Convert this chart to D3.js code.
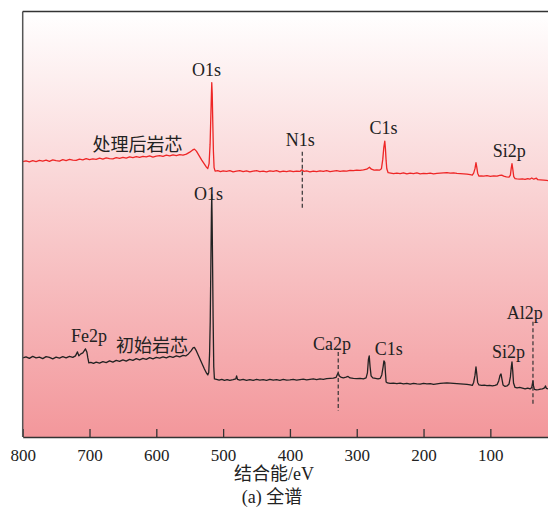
<!DOCTYPE html>
<html>
<head>
<meta charset="utf-8">
<script src="https://cdn.jsdelivr.net/npm/d3@7"></script>
<style>
  html, body { margin: 0; padding: 0; background: #fff; }
  svg text { font-family: "Liberation Serif", "Noto Sans CJK SC", serif; fill: #222; }
</style>
</head>
<body>
<svg width="548" height="510"></svg>
<script>
// binding energy (eV) vs intensity (a.u.)
const treatedSpectrum = [
  [800, 55.0], [795, 55.15], [790, 54.95], [785, 55.2], [780, 55.0], [775, 55.25], [770, 55.1], [765, 55.3],
  [760, 55.05], [755, 55.35], [750, 55.2], [745, 55.1], [740, 55.4], [735, 55.2], [730, 55.45], [725, 55.3],
  [720, 55.25], [715, 55.5], [710, 55.35], [705, 55.6], [700, 55.4], [695, 55.55], [690, 55.45], [685, 55.7],
  [680, 55.5], [675, 55.75], [670, 55.6], [665, 55.55], [660, 55.8], [655, 55.65], [650, 55.85], [645, 55.7],
  [640, 55.95], [635, 55.8], [630, 56.0], [625, 55.85], [620, 56.05], [615, 55.95], [610, 56.15], [605, 55.9],
  [600, 56.1], [595, 56.2], [590, 56.05], [585, 56.3], [580, 56.15], [575, 56.35], [570, 56.2], [565, 56.4],
  [560, 56.3], [555, 56.5], [550, 56.9], [546, 57.3], [543, 57.5], [540, 57.1], [536, 56.2], [532, 55.3],
  [528, 54.5], [525, 53.9], [523, 53.6], [521, 54.6], [519.5, 58.5], [518.5, 63.5], [517.5, 68.5], [517, 70.8],
  [516.3, 68.5], [515.5, 63], [514.5, 57], [513.5, 53.8], [512, 53.1], [508, 53.2], [504, 53.0], [500, 53.15],
  [495, 53.05], [490, 53.2], [485, 52.95], [480, 53.1], [475, 53.2], [470, 53.0], [465, 53.15], [460, 52.95],
  [455, 53.1], [450, 53.2], [445, 53.0], [440, 53.1], [435, 52.95], [430, 53.15], [425, 53.05], [420, 53.2],
  [415, 52.95], [410, 53.1], [405, 53.0], [400, 53.15], [395, 53.0], [390, 53.1], [385, 53.05], [382, 53.4],
  [379, 53.05], [375, 53.15], [370, 52.95], [365, 53.1], [360, 53.0], [355, 53.15], [350, 53.05], [345, 53.2],
  [340, 53.0], [335, 53.1], [330, 53.2], [325, 53.05], [320, 53.15], [315, 53.1], [310, 53.25], [305, 53.2],
  [300, 53.3], [295, 53.25], [290, 53.35], [285, 53.5], [281, 53.9], [278, 53.5], [274, 53.3], [270, 53.35],
  [266, 53.3], [263, 53.6], [261, 55.5], [259.5, 57.8], [258, 59.1], [257, 57.5], [256, 55.2], [255, 53.6],
  [253, 52.8], [249, 52.7], [245, 52.6], [240, 52.7], [235, 52.6], [230, 52.75], [225, 52.55], [220, 52.7],
  [215, 52.6], [210, 52.75], [205, 52.55], [200, 52.65], [195, 52.6], [190, 52.7], [185, 52.55], [180, 52.65],
  [175, 52.7], [170, 52.75], [165, 52.8], [160, 52.7], [155, 52.75], [150, 52.65], [145, 52.6], [140, 52.55],
  [135, 52.5], [130, 52.4], [127, 52.3], [125, 52.7], [123, 53.6], [121.5, 54.8], [120.2, 53.8], [119, 52.7],
  [117, 52.1], [114, 52.15], [110, 52.1], [105, 52.2], [100, 52.05], [95, 52.15], [90, 52.1], [86, 52.25],
  [83, 52.3], [80, 52.1], [76, 51.95], [72, 51.9], [70, 52.3], [68.8, 53.6], [67.6, 54.6], [66.3, 53.4],
  [65, 52.0], [63, 51.6], [60, 51.55], [56, 51.5], [52, 51.55], [48, 51.45], [44, 51.6], [41, 51.5],
  [38, 51.75], [35, 51.5], [33, 51.6], [31, 51.7], [29, 51.4], [25, 51.35], [20, 51.3], [16, 51.25], [13.7, 51.2]
];

const initialSpectrum = [
  [800, 15.8], [795, 16.0], [790, 15.7], [785, 16.1], [780, 15.8], [775, 15.95], [770, 15.65], [765, 16.05],
  [760, 15.9], [755, 15.6], [750, 15.95], [745, 15.75], [740, 16.05], [735, 15.8], [730, 16.1], [725, 15.9],
  [721, 16.2], [718, 17.0], [716, 16.2], [713, 16.6], [710, 16.8], [708, 17.2], [706, 17.6], [704, 17.0],
  [702.5, 15.8], [701, 14.8], [698, 14.9], [694, 14.7], [690, 14.95], [685, 14.75], [680, 15.05], [675, 14.85],
  [670, 15.2], [665, 14.95], [660, 15.3], [655, 15.1], [650, 15.4], [645, 15.15], [640, 15.5], [635, 15.3],
  [630, 15.65], [625, 15.4], [620, 15.7], [615, 15.5], [610, 15.85], [605, 15.6], [600, 15.9], [595, 15.75],
  [590, 16.0], [585, 15.8], [580, 16.1], [575, 15.9], [570, 16.2], [565, 16.0], [560, 16.3], [556, 16.2],
  [552, 16.6], [548, 17.2], [545, 17.8], [543, 17.9], [540, 17.2], [536, 16.0], [532, 14.8], [528, 13.6],
  [525, 12.8], [523, 12.4], [521.5, 12.9], [520.3, 16.5], [519.3, 23], [518.3, 35], [517.5, 45], [517, 48.4],
  [516.5, 44], [515.8, 35], [515, 24], [514, 14], [513, 11.6], [510, 11.5], [506, 11.35], [502, 11.5],
  [498, 11.3], [494, 11.45], [490, 11.3], [485, 11.45], [481, 11.6], [479.8, 12.2], [478.5, 11.5], [475, 11.35],
  [470, 11.5], [465, 11.3], [460, 11.45], [455, 11.3], [450, 11.5], [445, 11.35], [440, 11.45], [435, 11.3],
  [430, 11.5], [425, 11.35], [420, 11.45], [415, 11.3], [410, 11.5], [405, 11.35], [400, 11.4], [395, 11.5],
  [390, 11.35], [385, 11.45], [380, 11.55], [375, 11.4], [370, 11.5], [365, 11.6], [360, 11.45], [355, 11.6],
  [350, 11.5], [345, 11.65], [340, 11.7], [335, 11.75], [331, 11.9], [329, 12.5], [327.7, 12.8], [326, 12.2],
  [323, 11.9], [320, 11.8], [316, 11.95], [313, 12.1], [310, 11.8], [305, 11.7], [300, 11.65], [295, 11.7],
  [290, 11.6], [286, 11.8], [284, 12.8], [282.5, 15.5], [281.3, 16.2], [280, 14.0], [278.5, 12.2], [276, 11.8],
  [272, 11.7], [268, 11.6], [265, 11.7], [262.5, 12.4], [260.5, 14.0], [259.3, 15.2], [258, 14.9], [257, 12.8],
  [256, 11.0], [254, 10.8], [250, 10.7], [245, 10.75], [240, 10.65], [235, 10.75], [230, 10.6], [225, 10.7],
  [220, 10.55], [215, 10.7], [210, 10.6], [205, 10.55], [200, 10.7], [195, 10.6], [190, 10.65], [185, 10.5],
  [180, 10.6], [175, 10.7], [170, 10.75], [165, 10.8], [160, 10.75], [155, 10.7], [150, 10.65], [145, 10.6],
  [140, 10.55], [135, 10.5], [130, 10.4], [127, 10.3], [125, 10.9], [123, 12.3], [121.5, 14.0], [120.3, 12.6],
  [119, 10.9], [117, 10.4], [113, 10.3], [109, 10.35], [105, 10.25], [101, 10.3], [97, 10.2], [93, 10.3],
  [90, 10.45], [87.5, 11.2], [85.5, 12.3], [84, 12.6], [82.7, 11.6], [81, 10.4], [78, 10.1], [75, 10.2],
  [72, 10.6], [70, 12.0], [68.6, 14.0], [67.6, 15.0], [66.5, 13.2], [65.3, 10.8], [63, 9.9], [60, 9.8],
  [56, 9.9], [52, 9.75], [48, 9.6], [44, 9.75], [40.5, 9.6], [38, 9.9], [36.8, 10.8], [36.2, 11.2],
  [35.4, 10.2], [34, 9.5], [31, 9.4], [28, 9.45], [25, 9.55], [22, 9.6], [19, 9.8], [17.5, 10.2],
  [16, 9.7], [13.7, 9.6]
];

// peak markers (dashed): energy, intensity top, intensity bottom
const markerLines = [
  { ev: 381.5, top: 57, bottom: 45.4 },
  { ev: 327.7, top: 17, bottom: 5.2 },
  { ev: 36.2, top: 23, bottom: 6.6 }
];

// peak labels: text, energy (centre), intensity (baseline)
const peakLabels = [
  { text: 'O1s', ev: 525, y: 72.2 },
  { text: '处理后岩芯', ev: 628, y: 57.2 },
  { text: 'N1s', ev: 384.5, y: 58.2 },
  { text: 'C1s', ev: 260, y: 60.6 },
  { text: 'Si2p', ev: 71.6, y: 55.9 },
  { text: 'O1s', ev: 522, y: 47.4 },
  { text: 'Fe2p', ev: 700.6, y: 19.0 },
  { text: '初始岩芯', ev: 606.4, y: 17.0 },
  { text: 'Ca2p', ev: 337, y: 17.4 },
  { text: 'C1s', ev: 252.2, y: 16.3 },
  { text: 'Si2p', ev: 72.8, y: 15.7 },
  { text: 'Al2p', ev: 48.6, y: 23.6 }
];

const xTicks = [800, 700, 600, 500, 400, 300, 200, 100];
const xTitle = '结合能/eV';
const caption = '(a) 全谱';

const svg = d3.select('svg');
const plot = { left: 22.7, right: 548, top: 11.5, bottom: 437 };

const x = d3.scaleLinear().domain([800, 13.7]).range([plot.left, plot.right]);
const y = d3.scaleLinear().domain([0, 85]).range([plot.bottom, plot.top]);

/* background gradient */
const grad = svg.append('defs').append('linearGradient')
  .attr('id', 'bg').attr('x1', 0).attr('y1', 0).attr('x2', 0).attr('y2', 1);
grad.append('stop').attr('offset', '0%').attr('stop-color', '#ffffff');
grad.append('stop').attr('offset', '45%').attr('stop-color', '#f9d0d1');
grad.append('stop').attr('offset', '100%').attr('stop-color', '#f3979b');

svg.append('rect')
  .attr('x', plot.left).attr('y', plot.top)
  .attr('width', plot.right - plot.left).attr('height', plot.bottom - plot.top)
  .attr('fill', 'url(#bg)');

/* spectra */
const line = d3.line().x(d => x(d[0])).y(d => y(d[1]));

svg.append('path').datum(treatedSpectrum)
  .attr('d', line).attr('fill', 'none')
  .attr('stroke', '#ee2626').attr('stroke-width', 1.3).attr('stroke-linejoin', 'round');

svg.append('path').datum(initialSpectrum)
  .attr('d', line).attr('fill', 'none')
  .attr('stroke', '#222').attr('stroke-width', 1.3).attr('stroke-linejoin', 'round');

/* dashed markers */
svg.selectAll('.marker').data(markerLines).enter().append('line')
  .attr('class', 'marker')
  .attr('x1', d => x(d.ev)).attr('x2', d => x(d.ev))
  .attr('y1', d => y(d.top)).attr('y2', d => y(d.bottom))
  .attr('stroke', '#333').attr('stroke-width', 1.2).attr('stroke-dasharray', '4,2.5');

/* labels */
svg.selectAll('.peak').data(peakLabels).enter().append('text')
  .attr('class', 'peak')
  .attr('x', d => x(d.ev)).attr('y', d => y(d.y))
  .attr('text-anchor', 'middle')
  .style('font-size', '18px')
  .text(d => d.text);

/* axes */
const xAxis = svg.append('g')
  .attr('transform', `translate(0, ${plot.bottom})`)
  .call(d3.axisBottom(x).tickValues(xTicks).tickSizeInner(-8).tickSizeOuter(0).tickPadding(12));
xAxis.select('.domain').attr('stroke', '#333').attr('stroke-width', 1.5);
xAxis.selectAll('.tick line').attr('stroke', '#333').attr('stroke-width', 1.3);
xAxis.selectAll('.tick text')
  .style('font-size', '17px')
  .style('font-family', '"Liberation Serif", serif')
  .attr('fill', '#222');

// left and top frame
svg.append('line')
  .attr('x1', plot.left).attr('x2', plot.left).attr('y1', plot.top).attr('y2', plot.bottom)
  .attr('stroke', '#555').attr('stroke-width', 1.5);
svg.append('line')
  .attr('x1', plot.left).attr('x2', plot.right).attr('y1', plot.top).attr('y2', plot.top)
  .attr('stroke', '#333').attr('stroke-width', 1.5);

svg.append('text')
  .attr('x', 274).attr('y', 480)
  .attr('text-anchor', 'middle').style('font-size', '18px')
  .text(xTitle);

svg.append('text')
  .attr('x', 272).attr('y', 503)
  .attr('text-anchor', 'middle').style('font-size', '18px')
  .text(caption);
</script>
</body>
</html>
